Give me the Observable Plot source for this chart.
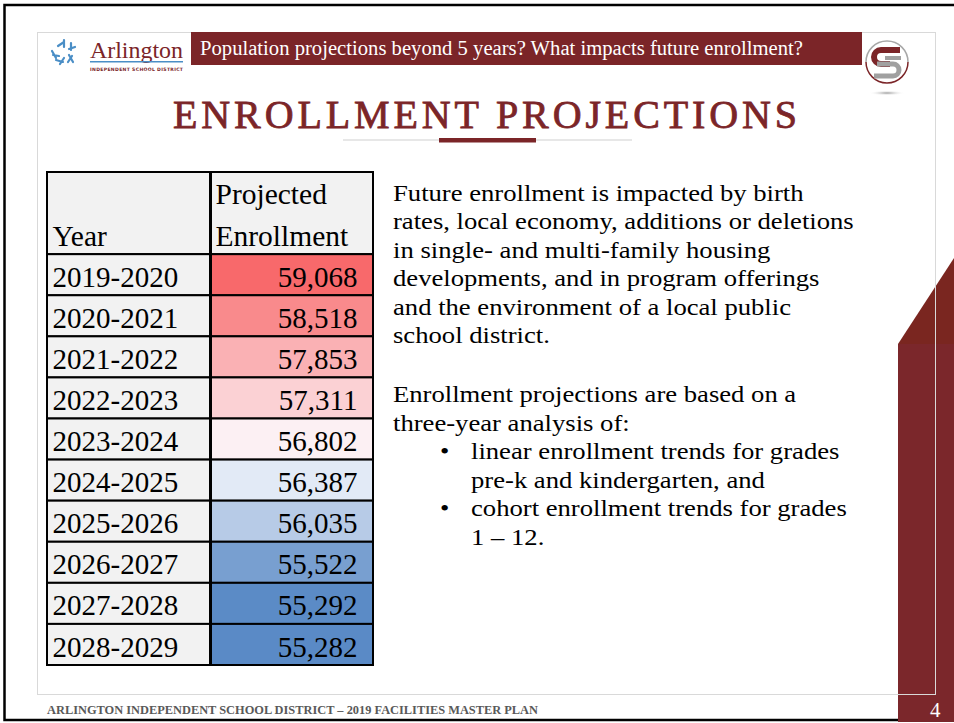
<!DOCTYPE html>
<html><head><meta charset="utf-8">
<script src="https://cdn.jsdelivr.net/npm/d3@7"></script>
<script src="https://cdn.jsdelivr.net/npm/@observablehq/plot@0.6"></script>
<style>
html,body{margin:0;padding:0;}
body{width:954px;height:723px;overflow:hidden;background:#fff;position:relative;font-family:"Liberation Serif",serif;}
#bg{position:absolute;left:0;top:0;}
#table{position:absolute;left:45px;top:170px;}
</style></head><body>
<svg id="bg" width="954" height="723" font-family="Liberation Serif">
  <!-- page border -->
  <rect x="4.5" y="5" width="970" height="715" fill="none" stroke="#000" stroke-width="2.5"/>
  <!-- right decoration -->
  <polygon points="898,344 954,258 954,344" fill="#7a2620"/>
  <rect x="898" y="344" width="56" height="378" fill="#7b272b"/>
  <!-- slide frame -->
  <rect x="37.5" y="32.5" width="898" height="662" fill="none" stroke="#d9d9d9" stroke-width="1"/>
  <text x="930" y="717" fill="#fff" font-size="21">4</text>
  <!-- banner -->
  <rect x="191" y="32" width="671" height="33" fill="#7b2528"/>
  <text x="200" y="55" fill="#fff" font-size="20" textLength="603" lengthAdjust="spacingAndGlyphs">Population projections beyond 5 years? What impacts future enrollment?</text>
  <!-- Arlington logo -->
  <g stroke="#4a8ec6" stroke-width="2.2" fill="none" stroke-linecap="round">
    <path d="M58,46 l6,-4 M64,40 l0,7"/>
    <path d="M69,49 l6,-2 M71,43 l0,7"/>
    <path d="M53,55 l6,1 M52,51 l4,7"/>
    <path d="M60,64 l4,-6 M56,60 l7,2"/>
    <path d="M68,62 l4,-6 M69,55 l4,7"/>
  </g>
  <text x="90" y="58" fill="#7b2528" font-size="23" textLength="93" lengthAdjust="spacingAndGlyphs">Arlington</text>
  <rect x="90" y="61" width="93" height="1.5" fill="#4a8ec6"/>
  <text x="90" y="71" fill="#7b2528" font-size="4.6" font-family="DejaVu Sans" font-weight="bold" textLength="93" lengthAdjust="spacing">INDEPENDENT SCHOOL DISTRICT</text>
  <!-- right logo -->
  <defs>
    <radialGradient id="sh" cx="0.5" cy="0.5" r="0.5"><stop offset="0" stop-color="#999"/><stop offset="1" stop-color="#fff" stop-opacity="0"/></radialGradient>
  </defs>
  <ellipse cx="887" cy="93" rx="18" ry="2.5" fill="url(#sh)"/>
  <path d="M866,62 A21,21 0 0 1 908,62" fill="none" stroke="#a8a8a8" stroke-width="1.5"/>
  <path d="M866,62 A21,21 0 0 0 908,62" fill="none" stroke="#7b2528" stroke-width="1.5"/>
  <path d="M900,50 L881,50 A7,7 0 0 0 881,64 L890,64" fill="none" stroke="#7b2528" stroke-width="6"/>
  <path d="M877,64 L893,64 A6,6 0 0 1 893,76 L874,76" fill="none" stroke="#a0a0a0" stroke-width="5"/>
  <rect x="885" y="56" width="16" height="4" fill="#a0a0a0"/>
  <!-- title -->
  <text x="173" y="128" fill="#7b2528" stroke="#7b2528" stroke-width="0.8" font-size="40" textLength="624" lengthAdjust="spacing">ENROLLMENT PROJECTIONS</text>
  <rect x="343" y="139.5" width="289" height="1" fill="#d0d0d0"/>
  <rect x="439" y="138" width="97" height="4.5" fill="#7b2528"/>
  <!-- body text -->
  <g id="body" font-size="24" fill="#000">
    <text x="393" y="201">Future enrollment is impacted by birth</text>
    <text x="393" y="229.4">rates, local economy, additions or deletions</text>
    <text x="393" y="257.8">in single- and multi-family housing</text>
    <text x="393" y="286.2">developments, and in program offerings</text>
    <text x="393" y="314.6">and the environment of a local public</text>
    <text x="393" y="343">school district.</text>
    <text x="393" y="402">Enrollment projections are based on a</text>
    <text x="393" y="430.5">three-year analysis of:</text>
    <text x="440" y="459">•</text>
    <text x="471" y="459">linear enrollment trends for grades</text>
    <text x="471" y="487.5">pre-k and kindergarten, and</text>
    <text x="440" y="516">•</text>
    <text x="471" y="516">cohort enrollment trends for grades</text>
    <text x="471" y="544.5">1 – 12.</text>
  </g>
  <!-- footer -->
  <text x="47" y="714" fill="#595959" font-size="12" font-weight="bold" textLength="491" lengthAdjust="spacingAndGlyphs">ARLINGTON INDEPENDENT SCHOOL DISTRICT – 2019 FACILITIES MASTER PLAN</text>
</svg>
<div id="table"></div>
<script>
const years = ["2019-2020","2020-2021","2021-2022","2022-2023","2023-2024","2024-2025","2025-2026","2026-2027","2027-2028","2028-2029"];
const enrollment = [59068, 58518, 57853, 57311, 56802, 56387, 56035, 55522, 55292, 55282];
const headers = ["Year", "Projected\nEnrollment"];
const scaleColors = ["#5A8AC6", "#FCFCFF", "#F8696B"];

// widen body text to the proportions of the original serif face
document.querySelectorAll("#body text").forEach(t => {
  const w = t.getComputedTextLength();
  t.setAttribute("textLength", (w * 1.11).toFixed(1));
  t.setAttribute("lengthAdjust", "spacingAndGlyphs");
});

const rows = years.map((year, i) => ({year, value: enrollment[i], row: i + 2}));
const fmt = d3.format(",");
const chart = Plot.plot({
  width: 330, height: 497,
  marginTop: 2, marginBottom: 2, marginLeft: 2, marginRight: 2,
  style: {fontFamily: "Liberation Serif", background: "transparent"},
  x: {domain: [0, 2], axis: null},
  y: {domain: [0, 12], reverse: true, axis: null},
  color: {type: "linear", domain: [d3.min(enrollment), d3.median(enrollment), d3.max(enrollment)], range: scaleColors, interpolate: "rgb"},
  marks: [
    Plot.rect(headers, {x1: (d, i) => i, x2: (d, i) => i + 1, y1: 0, y2: 2, fill: "#f2f2f2", stroke: "#000", strokeWidth: 2}),
    Plot.rect(rows, {x1: 0, x2: 1, y1: "row", y2: d => d.row + 1, fill: "#f2f2f2", stroke: "#000", strokeWidth: 2}),
    Plot.rect(rows, {x1: 1, x2: 2, y1: "row", y2: d => d.row + 1, fill: "value", stroke: "#000", strokeWidth: 2}),
    Plot.ruleX([1], {y1: 0, y2: 12, stroke: "#000", strokeWidth: 3}),
    Plot.text(headers, {x: (d, i) => i, y: 2, dx: 5, dy: -9, text: d => d, textAnchor: "start", lineAnchor: "bottom", lineHeight: 1.41, fontSize: 29.5, fill: "#000"}),
    Plot.text(rows, {x: 0, y: d => d.row + 1, dx: 5, dy: -9, text: "year", textAnchor: "start", lineAnchor: "bottom", fontSize: 29, fill: "#000"}),
    Plot.text(rows, {x: 2, y: d => d.row + 1, dx: -16, dy: -9, text: d => fmt(d.value), textAnchor: "end", lineAnchor: "bottom", fontSize: 29, fill: "#000"})
  ]
});
document.getElementById("table").appendChild(chart);
</script>
</body></html>
